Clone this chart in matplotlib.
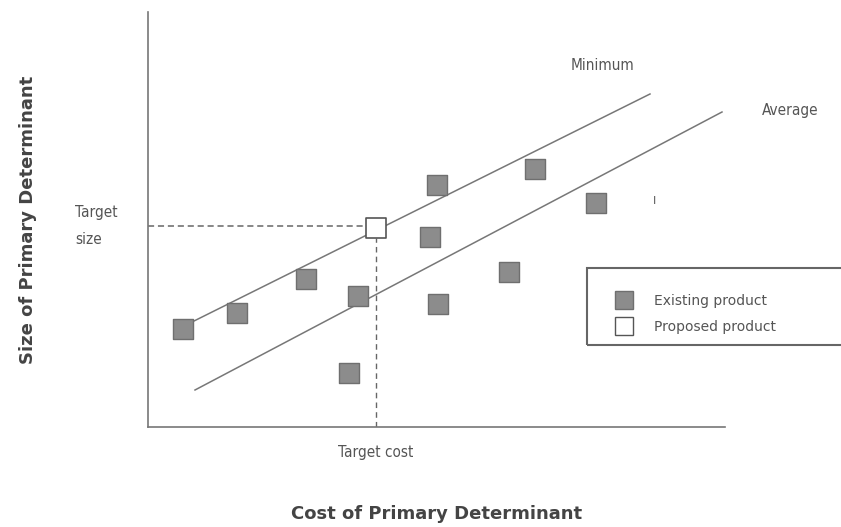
import matplotlib
matplotlib.use("Agg")
import matplotlib.pyplot as plt
from matplotlib.patches import Rectangle
from matplotlib.lines import Line2D

# existing products (cost, size) in arbitrary units
exist_cost = [35, 89, 158, 210, 201, 289, 282, 290, 361, 387, 448]
exist_size = [98, 114, 148, 131, 54, 242, 190, 123, 155, 258, 224]

# proposed product
target_cost = 228
target_size = 199

# reference lines
min_x = [42, 502]
min_y = [104, 333]
avg_x = [47, 574]
avg_y = [37, 315]

W, H = 841, 527
fig = plt.figure(figsize=(W / 100, H / 100), dpi=100)
ax = fig.add_axes([148 / W, 100 / H, (725 - 148) / W, (427 - 12) / H])
ax.set_xlim(0, 577)
ax.set_ylim(0, 415)

txt = "#555555"
gray = "#8c8c8c"

for s in ["top", "right"]:
    ax.spines[s].set_visible(False)
for s in ["left", "bottom"]:
    ax.spines[s].set_color("#777777")
    ax.spines[s].set_linewidth(1.2)
ax.set_xticks([])
ax.set_yticks([])

ax.plot(min_x, min_y, color="#777777", lw=1.1)
ax.plot(avg_x, avg_y, color="#777777", lw=1.1)

ax.plot([0, target_cost - 6], [target_size + 2, target_size + 2], color="#666666",
        lw=1.1, ls=(0, (4, 2.5)))
ax.plot([target_cost, target_cost], [0, target_size - 10], color="#666666",
        lw=1.0, ls=(0, (4, 3)))

ax.scatter(exist_cost, exist_size, marker="s", s=190, color=gray,
           edgecolor="#6f6f6f", linewidth=1, zorder=3)
ax.scatter([target_cost], [target_size], marker="s", s=190, color="white",
           edgecolor="#555555", linewidth=1.2, zorder=4)

tk = dict(color=txt, fontsize=11, fontstretch="condensed")
ax.text(455, 361, "Minimum", ha="center", va="center", **tk)
ax.text(642, 317, "Average", ha="center", va="center", clip_on=False, **tk)
ax.text(506, 226, "I", ha="center", va="center", color=txt, fontsize=8)
ax.text(-73, 214, "Target", ha="left", va="center", clip_on=False, **tk)
ax.text(-73, 187, "size", ha="left", va="center", clip_on=False, **tk)
ax.text(target_cost, -26, "Target cost", ha="center", va="center", clip_on=False, **tk)

ax.set_xlabel("Cost of Primary Determinant", fontsize=13, fontweight="bold",
              color="#444444", labelpad=56)
ax.set_ylabel("Size of Primary Determinant", fontsize=13, fontweight="bold",
              color="#444444", labelpad=80)

# legend box
fig.patches.append(Rectangle((587 / W, 1 - 345 / H), 300 / W, 77 / H,
                             transform=fig.transFigure, fill=False,
                             edgecolor="#666666", lw=1.5))
handles = [
    Line2D([], [], ls="none", marker="s", markersize=13, markerfacecolor=gray,
           markeredgecolor="#6f6f6f"),
    Line2D([], [], ls="none", marker="s", markersize=13, markerfacecolor="white",
           markeredgecolor="#555555"),
]
leg = fig.legend(handles, ["Existing product", "Proposed product"], frameon=False,
                 loc="upper left", bbox_to_anchor=(603 / W, 1 - 287 / H),
                 fontsize=10, labelspacing=0.85, handletextpad=1.2, borderpad=0)
for t in leg.get_texts():
    t.set_color(txt)

fig.savefig("out.png", dpi=100)
